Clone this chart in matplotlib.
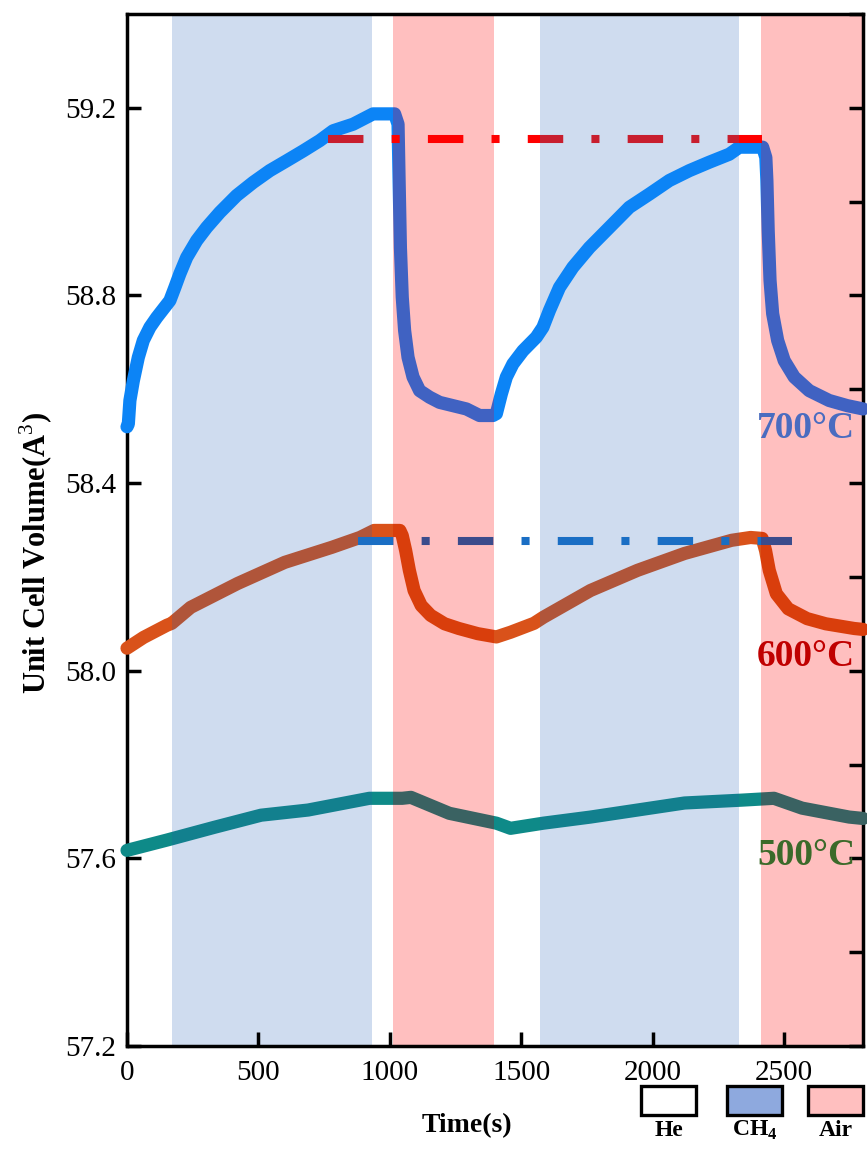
import matplotlib
matplotlib.use('Agg')
import matplotlib.pyplot as plt
from matplotlib.patches import Rectangle
from matplotlib.ticker import MultipleLocator

plt.rcParams['font.family'] = ['Liberation Serif', 'DejaVu Serif']
plt.rcParams['mathtext.fontset'] = 'custom'
plt.rcParams['mathtext.rm'] = 'Liberation Serif'
plt.rcParams['mathtext.bf'] = 'Liberation Serif:bold'

# gas switching sequence (s)
gas_spans = [(-100, 170), (170, 930), (930, 1012), (1012, 1396),
             (1396, 1572), (1572, 2327), (2327, 2411), (2411, 3000)]
gas_names = ['He', 'CH4', 'He', 'Air', 'He', 'CH4', 'He', 'Air']

# unit cell volume at 700 C
t700 = [0, 5, 11, 24, 43, 62, 87, 113, 138, 163, 182, 201, 227, 265, 303,
        353, 417, 480, 543, 607, 670, 733, 784, 860, 936, 1018,
        1031, 1035, 1040, 1047, 1056, 1069, 1088, 1113, 1151, 1189, 1240,
        1291, 1341, 1392,
        1405, 1424, 1443, 1468, 1506, 1557, 1582, 1607, 1645, 1696, 1759,
        1835, 1911, 1987, 2063, 2139, 2215, 2291, 2329, 2418,
        2430, 2434, 2439, 2446, 2456, 2475, 2500, 2538, 2595, 2671, 2740, 2800]
v700 = [58.52, 58.526, 58.576, 58.618, 58.668, 58.704, 58.732, 58.753,
        58.771, 58.789, 58.817, 58.846, 58.881, 58.917, 58.945, 58.977,
        59.013, 59.041, 59.066, 59.087, 59.108, 59.130, 59.151, 59.165,
        59.187, 59.187,
        59.165, 59.045, 58.902, 58.796, 58.725, 58.668, 58.626, 58.597,
        58.583, 58.572, 58.565, 58.558, 58.544, 58.544,
        58.548, 58.590, 58.626, 58.654, 58.682, 58.711, 58.732, 58.768,
        58.817, 58.860, 58.902, 58.945, 58.988, 59.016, 59.045, 59.066,
        59.084, 59.101, 59.116, 59.116,
        59.094, 59.045, 58.938, 58.832, 58.761, 58.704, 58.661, 58.626,
        58.597, 58.576, 58.565, 58.558]

# unit cell volume at 600 C
t600 = [0, 63, 152, 170, 242, 421, 600, 779, 886, 940, 1038, 1047, 1060,
        1074, 1092, 1119, 1155, 1208, 1262, 1334, 1405, 1459, 1548, 1584,
        1763, 1942, 2121, 2300, 2372, 2416, 2429, 2443, 2470, 2515, 2587,
        2658, 2766, 2800]
v600 = [58.048, 58.071, 58.097, 58.101, 58.135, 58.186, 58.231, 58.263,
        58.284, 58.299, 58.299, 58.288, 58.256, 58.214, 58.171, 58.139,
        58.118, 58.100, 58.090, 58.079, 58.072, 58.082, 58.101, 58.114,
        58.171, 58.214, 58.250, 58.278, 58.284, 58.282, 58.256, 58.214,
        58.164, 58.132, 58.111, 58.100, 58.090, 58.088]

# unit cell volume at 500 C
t500 = [0, 152, 331, 510, 689, 922, 1047, 1080, 1226, 1405, 1459, 1584,
        1763, 1942, 2121, 2336, 2461, 2568, 2747, 2800]
v500 = [57.617, 57.639, 57.666, 57.692, 57.703, 57.728, 57.728, 57.73,
        57.696, 57.675, 57.664, 57.675, 57.688, 57.703, 57.718, 57.724,
        57.728, 57.707, 57.688, 57.685]

# reference levels
red_ref_t = [764, 2416]
red_ref_v = [59.134, 59.134]
blue_ref_t = [878, 2530]
blue_ref_v = [58.276, 58.276]

fig = plt.figure(figsize=(8.67, 11.54), dpi=100)
ax = fig.add_axes([0.1465, 0.0936, 0.849, 0.8943])

shade = {'He': None, 'CH4': '#cfdcef', 'Air': '#ffbfbf'}
for (a, b), g in zip(gas_spans, gas_names):
    if shade[g]:
        ax.axvspan(a, b, color=shade[g], lw=0, zorder=0)


def phased_plot(x, y, colors, **kw):
    # same curve, recoloured inside each gas window
    for (a, b), g in zip(gas_spans, gas_names):
        ln, = ax.plot(x, y, color=colors[g], **kw)
        ln.set_clip_path(Rectangle((a, 50), b - a, 20, transform=ax.transData))


curve_kw = dict(lw=9.5, solid_capstyle='round', solid_joinstyle='round', zorder=3)
phased_plot(t700, v700, {'He': '#0c84f6', 'CH4': '#0c84f6', 'Air': '#4062c2'}, **curve_kw)
phased_plot(t600, v600, {'He': '#d9521a', 'CH4': '#b0553a', 'Air': '#d93e0c'}, **curve_kw)
phased_plot(t500, v500, {'He': '#0e8a88', 'CH4': '#12808e', 'Air': '#3a6262'}, **curve_kw)

dash_kw = dict(lw=5.8, dashes=(4.4, 3.5, 1.0, 3.5), dash_capstyle='butt', zorder=4)
phased_plot(red_ref_t, red_ref_v, {'He': '#ff0000', 'CH4': '#c81e2e', 'Air': '#ff0000'}, **dash_kw)
phased_plot(blue_ref_t, blue_ref_v, {'He': '#1a6ec4', 'CH4': '#1a6ec4', 'Air': '#3b4c8c'}, **dash_kw)

ax.text(2770, 58.516, '700°C', color='#4a6cc0', fontsize=27, fontweight='bold',
        ha='right', va='center')
ax.text(2770, 58.03, '600°C', color='#c00000', fontsize=27, fontweight='bold',
        ha='right', va='center')
ax.text(2770, 57.607, '500°C', color='#3b6a2a', fontsize=27, fontweight='bold',
        ha='right', va='center')

ax.set_xlim(0, 2800)
ax.set_ylim(57.2, 59.4)
ax.xaxis.set_major_locator(MultipleLocator(500))
ax.yaxis.set_major_locator(MultipleLocator(0.4))
ax.yaxis.set_minor_locator(MultipleLocator(0.2))
ax.yaxis.set_major_formatter(matplotlib.ticker.FormatStrFormatter('%.1f'))
ax.tick_params(which='both', direction='in', length=10, width=2.5, labelsize=21,
               top=False, right=True)
ax.tick_params(which='minor', left=False, right=True)
ax.tick_params(axis='y', pad=8)
ax.tick_params(axis='x', pad=10)
for s in ax.spines.values():
    s.set_linewidth(2.5)

fig.text(36 / 867, 1 - 553 / 1154, r'Unit Cell Volume(A$^{3}$)', rotation=90,
         fontsize=22, fontweight='bold', ha='center', va='center')
fig.text(467 / 867, 1 - 1126 / 1154, 'Time(s)', fontsize=20, fontweight='bold',
         ha='center', va='center')

# gas legend
W, H = 867, 1154
boxes = [(641, 'white', 'He'), (727, '#8ea9de', r'CH$_\mathbf{4}$'), (808, '#ffbfbf', 'Air')]
for x0, fc, lab in boxes:
    fig.add_artist(Rectangle((x0 / W, 1 - 1115 / H), 55 / W, 29 / H, transform=fig.transFigure,
                             facecolor=fc, edgecolor='black', lw=2.4))
    fig.text((x0 + 27.5) / W, 1 - 1130 / H, lab, fontsize=17, fontweight='bold',
             ha='center', va='center')

fig.savefig('out.png', dpi=100)
